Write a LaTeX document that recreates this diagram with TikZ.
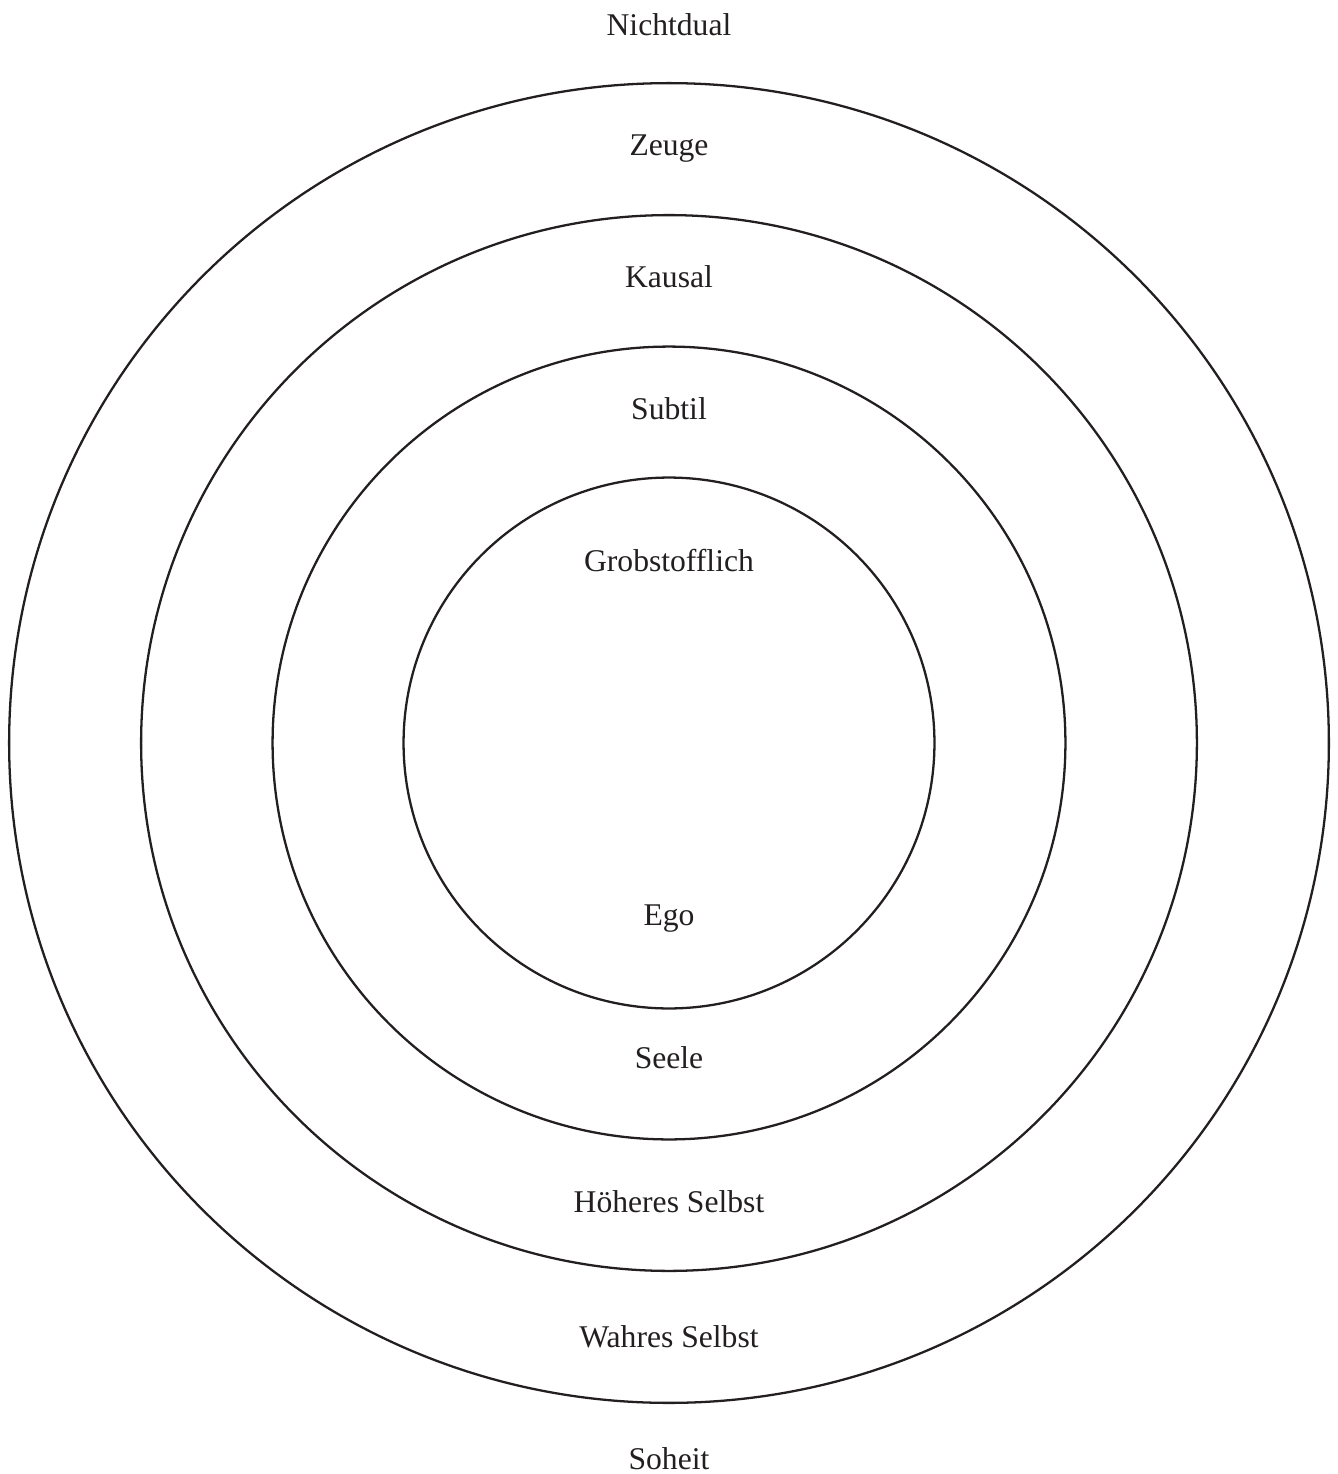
\documentclass[tikz,border=0pt]{standalone}
\usepackage{fontspec}
\setmainfont{Liberation Serif}
\usetikzlibrary{positioning}
\definecolor{inkMain}{HTML}{231F20}
\tikzset{
  ring/.style={
    draw=inkMain, circle, line width=1.3pt, inner sep=0pt,
  },
  level/.style={
    anchor=base, inner sep=0pt, text=inkMain,
    font=\fontsize{18}{21}\selectfont,
  },
}

\begin{document}
\begin{tikzpicture}[x=0.02cm, y=-0.02cm]

  % === Frame ===
  \useasboundingbox (0,0) rectangle (1338,1474);
  \coordinate (mid) at (669,743);

  % === Rings ===
  \node[ring, minimum size=26.4cm] (outer) at (mid) {};
  \node[ring, minimum size=21.12cm] (second) at (mid) {};
  \node[ring, minimum size=15.86cm] (third) at (mid) {};
  \node[ring, minimum size=10.62cm] (inner) at (mid) {};

  % === Upper labels ===
  \node[level] (nichtdual) at (669,35) {Nichtdual};
  \node[level] (zeuge) at (669,155) {Zeuge};
  \node[level] (kausal) at (669,287) {Kausal};
  \node[level] (subtil) at (669,419) {Subtil};
  \node[level] (grob) at (669,571) {Grobstofflich};

  % === Lower labels ===
  \node[level] (ego) at (669,925) {Ego};
  \node[level] (seele) at (669,1068) {Seele};
  \node[level] (hoeheres) at (669,1212) {Höheres Selbst};
  \node[level] (wahres) at (669,1347) {Wahres Selbst};
  \node[level] (soheit) at (669,1469) {Soheit};

\end{tikzpicture}
\end{document}
